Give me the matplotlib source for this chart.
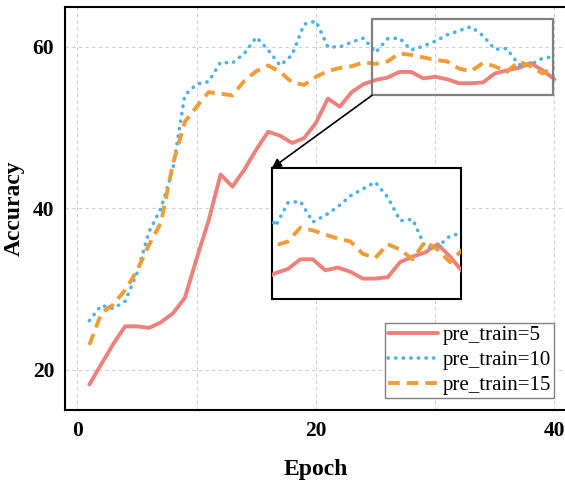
import numpy as np
import matplotlib
matplotlib.use("Agg")
import matplotlib.pyplot as plt
from matplotlib.patches import Rectangle, ConnectionPatch

plt.rcParams['font.family'] = ['Liberation Serif', 'DejaVu Serif']

epochs = list(range(1, 41))
acc_pt5 = [18.2, 20.7, 23.2, 25.4, 25.4, 25.2, 25.9, 27.0, 28.9, 33.8,
           38.5, 44.2, 42.7, 44.8, 47.3, 49.5, 49.0, 48.1, 48.7, 50.6,
           53.6, 52.6, 54.4, 55.4, 55.9, 56.2, 56.9, 56.9, 56.1, 56.3,
           56.0, 55.5, 55.5, 55.6, 56.7, 57.1, 57.4, 58.0, 57.1, 56.0]
acc_pt10 = [26.1, 28.0, 27.6, 28.5, 32.0, 37.1, 40.0, 44.8, 54.0, 55.4,
            55.7, 58.1, 58.0, 59.2, 61.2, 59.6, 57.7, 59.0, 62.8, 63.2,
            60.0, 60.0, 60.6, 61.1, 59.3, 61.0, 61.1, 59.6, 60.1, 60.7,
            61.5, 62.0, 62.5, 61.4, 59.7, 59.8, 57.8, 57.8, 58.6, 58.8]
acc_pt15 = [23.1, 27.0, 28.1, 29.9, 32.3, 35.5, 38.2, 45.5, 50.7, 52.6,
            54.4, 54.2, 54.0, 55.8, 57.0, 57.7, 56.9, 55.6, 55.3, 56.3,
            57.0, 57.4, 57.6, 58.1, 57.9, 58.2, 59.2, 59.0, 58.7, 58.4,
            58.2, 57.3, 57.0, 58.0, 57.6, 56.9, 58.2, 57.6, 56.7, 57.6]
labels = ['pre_train=5', 'pre_train=10', 'pre_train=15']
xticks = [0, 10, 20, 30, 40]
xticklabels = ['0', '', '20', '', '40']
yticks = [20, 40, 60]

c_red = '#EE817B'
c_blue = '#4DB3E6'
c_orange = '#F39B35'

def draw(ax):
    ax.plot(epochs, acc_pt5, color=c_red, lw=2.8, solid_capstyle='round',
            solid_joinstyle='round', label=labels[0], zorder=3)
    ax.plot(epochs, acc_pt10, color=c_blue, lw=2.6, linestyle=(0, (0.1, 2.0)),
            dash_capstyle='round', label=labels[1], zorder=3)
    ax.plot(epochs, acc_pt15, color=c_orange, lw=2.8, linestyle=(0, (3.0, 1.8)),
            dash_joinstyle='round', label=labels[2], zorder=3)

fig = plt.figure(figsize=(5.65, 4.83), dpi=100)
ax = fig.add_axes([0.1159, 0.1505, 0.8866, 0.836])
draw(ax)
ax.set_xlim(-1, 41)
ax.set_ylim(15, 65)
ax.set_xticks(xticks)
ax.set_xticklabels(xticklabels)
ax.set_yticks(yticks)
ax.tick_params(length=0, labelsize=15.5, pad=8)
for t in ax.get_xticklabels() + ax.get_yticklabels():
    t.set_fontweight('bold')
ax.grid(True, linestyle=(0, (3, 3)), color='#cfcfcf', lw=0.8, zorder=0)
for s in ax.spines.values():
    s.set_linewidth(1.5)
    s.set_color('black')
ax.set_xlabel('Epoch', fontsize=17, fontweight='bold', labelpad=13)
ax.set_ylabel('Accuracy', fontsize=17, fontweight='bold', labelpad=6)

leg = ax.legend(loc='lower right', bbox_to_anchor=(0.975, 0.0305),
                borderaxespad=0, fontsize=15, fancybox=False, framealpha=1,
                edgecolor='#808080', handlelength=2.4, handletextpad=0.2,
                labelspacing=0.25, borderpad=0.15)
leg.get_frame().set_linewidth(1.0)

# zoom region
x0, x1, y0, y1 = 24.7, 39.9, 54.0, 63.5
ax.add_patch(Rectangle((x0, y0), x1 - x0, y1 - y0, fill=False,
                       edgecolor='#808080', lw=1.6, zorder=4))

axins = fig.add_axes([271.7 / 565, 1 - 299.3 / 483, 189.6 / 565, 131 / 483])
draw(axins)
axins.set_xlim(x0, x1)
axins.set_ylim(y0, y1)
axins.set_xticks([])
axins.set_yticks([])
for s in axins.spines.values():
    s.set_linewidth(1.5)
    s.set_color('black')

con = ConnectionPatch(xyA=(x0, y0), coordsA=ax.transData,
                      xyB=(0, 1), coordsB=axins.transAxes,
                      arrowstyle='-|>', mutation_scale=14, color='black', lw=1.2)
fig.add_artist(con)

fig.savefig('out.png', dpi=100)
